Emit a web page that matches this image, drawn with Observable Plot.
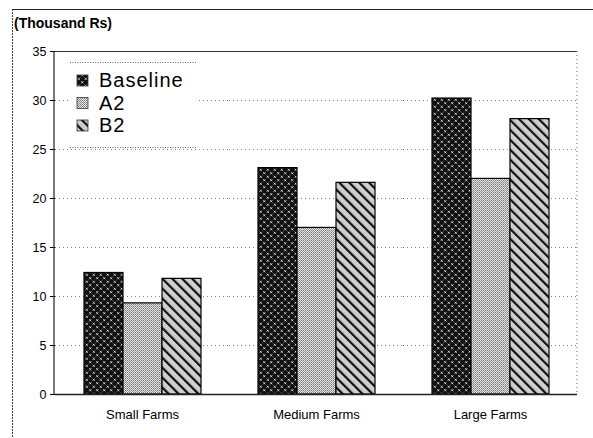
<!DOCTYPE html>
<html><head><meta charset="utf-8">
<script src="https://cdn.jsdelivr.net/npm/d3@7"></script>
<script src="https://cdn.jsdelivr.net/npm/@observablehq/plot@0.6"></script>
<style>
body{margin:0;background:#fff;font-family:Arial,"Liberation Sans",sans-serif;}
#chart{width:593px;height:438px;}
</style></head><body><div id="chart"></div>
<script>
const categories = ["Small Farms", "Medium Farms", "Large Farms"];
const seriesNames = ["Baseline", "A2", "B2"];
const baseline = [12.4, 23.1, 30.2];
const a2 = [9.3, 17.0, 22.0];
const b2 = [11.8, 21.6, 28.1];
const yTicks = [0, 5, 10, 15, 20, 25, 30, 35];
const gridTicks = [5, 10, 15, 20, 25, 30];
const titleText = "(Thousand Rs)";

const valuesBySeries = {Baseline: baseline, A2: a2, B2: b2};
const fills = {Baseline: "url(#patBase)", A2: "url(#patA2)", B2: "url(#patB2)"};
const data = [];
categories.forEach((c, i) => seriesNames.forEach(s => data.push({category: c, series: s, value: valuesBySeries[s][i]})));

const font = "Arial, 'Liberation Sans', sans-serif";
const plot = Plot.plot({
  width: 593, height: 438,
  marginLeft: 54, marginRight: 16, marginTop: 51, marginBottom: 44,
  style: {fontFamily: font, fontSize: "12px", background: "white", color: "black", overflow: "visible"},
  fx: {domain: categories, padding: 0, label: null, axis: null},
  x: {domain: seriesNames, paddingInner: 0, paddingOuter: 0.71, axis: null},
  y: {domain: [0, 35], axis: null},
  marks: [
    Plot.gridY(gridTicks, {stroke: "#777", strokeOpacity: 0.9, strokeDasharray: "1,3", strokeWidth: 1}),
    ...seriesNames.map(s => Plot.barY(data.filter(d => d.series === s), {
      fx: "category", x: "series", y: "value", fill: fills[s], stroke: "black", strokeWidth: 1.2
    })),
    Plot.ruleY([0], {stroke: "#222", strokeWidth: 1.5}),
    Plot.ruleY([35], {stroke: "#333", strokeWidth: 1}),
    Plot.axisFx({anchor: "bottom", tickSize: 0, tickPadding: 15, label: null, fontSize: 13}),
    Plot.axisY(yTicks, {tickSize: 5, tickPadding: 4, label: null, fontSize: 12.5})
  ]
});
document.getElementById("chart").appendChild(plot);

const svg = d3.select(plot);
const defs = svg.insert("defs", ":first-child");
// Baseline: dark with light speckles
const pb = defs.append("pattern").attr("id", "patBase").attr("patternUnits", "userSpaceOnUse").attr("width", 7).attr("height", 7);
pb.append("rect").attr("width", 7).attr("height", 7).attr("fill", "#111");
[[1.75, 1.75], [5.25, 5.25]].forEach(([cx, cy]) => {
  pb.append("path").attr("d", `M${cx-1},${cy-1}L${cx+1},${cy+1}M${cx+1},${cy-1}L${cx-1},${cy+1}`).attr("stroke", "#ddd").attr("stroke-width", 0.9);
});
// A2: fine stipple
const pa = defs.append("pattern").attr("id", "patA2").attr("patternUnits", "userSpaceOnUse").attr("width", 2).attr("height", 2);
pa.append("rect").attr("width", 2).attr("height", 2).attr("fill", "#e4e4e4");
pa.append("rect").attr("width", 1).attr("height", 1).attr("fill", "#7a7a7a");
pa.append("rect").attr("x", 1).attr("y", 1).attr("width", 1).attr("height", 1).attr("fill", "#9a9a9a");
// B2: diagonal stripes on light gray
const pd = defs.append("pattern").attr("id", "patB2").attr("patternUnits", "userSpaceOnUse").attr("width", 7).attr("height", 7).attr("patternTransform", "rotate(-45)");
pd.append("rect").attr("width", 7).attr("height", 7).attr("fill", "#cfcfcf");
pd.append("rect").attr("x", 0).attr("width", 2.2).attr("height", 7).attr("fill", "#111");

// frame lines derived from scales
const y = plot.scale("y");
const left = 54, right = 593 - 16;
const y0 = y.apply(0), y35 = y.apply(35);
svg.append("line").attr("x1", left).attr("x2", left).attr("y1", y35).attr("y2", y0).attr("stroke", "#222").attr("stroke-width", 1.2);
svg.append("line").attr("x1", right).attr("x2", right).attr("y1", y35).attr("y2", y0).attr("stroke", "#666").attr("stroke-dasharray", "1,3");

// outer chart border
svg.append("line").attr("x1", 12).attr("x2", 593).attr("y1", 9.5).attr("y2", 9.5).attr("stroke", "#222").attr("stroke-width", 1.2);
svg.append("line").attr("x1", 12.5).attr("x2", 12.5).attr("y1", 9).attr("y2", 438).attr("stroke", "#444").attr("stroke-dasharray", "2,1");

// title
svg.append("text").attr("x", 14).attr("y", 28).attr("text-anchor", "start").attr("font-family", font).attr("font-size", 14).attr("font-weight", "bold").attr("fill", "black").text(titleText);

// legend
const lg = svg.append("g");
lg.append("rect").attr("x", 70).attr("y", 62).attr("width", 127).attr("height", 86).attr("fill", "white");
[62.5, 147.5].forEach(yy => lg.append("line").attr("x1", 70).attr("x2", 197).attr("y1", yy).attr("y2", yy).attr("stroke", "#666").attr("stroke-dasharray", "1,1.5"));
seriesNames.forEach((s, i) => {
  const yy = 75 + i * 22.5;
  lg.append("rect").attr("x", 77).attr("y", yy).attr("width", 11).attr("height", 11).attr("fill", fills[s]).attr("stroke", "#333").attr("stroke-width", 0.8);
  lg.append("text").attr("x", 99).attr("y", yy + 12).attr("text-anchor", "start").attr("font-family", font).attr("font-size", 20).attr("letter-spacing", 1).attr("fill", "black").text(s);
});
</script></body></html>
